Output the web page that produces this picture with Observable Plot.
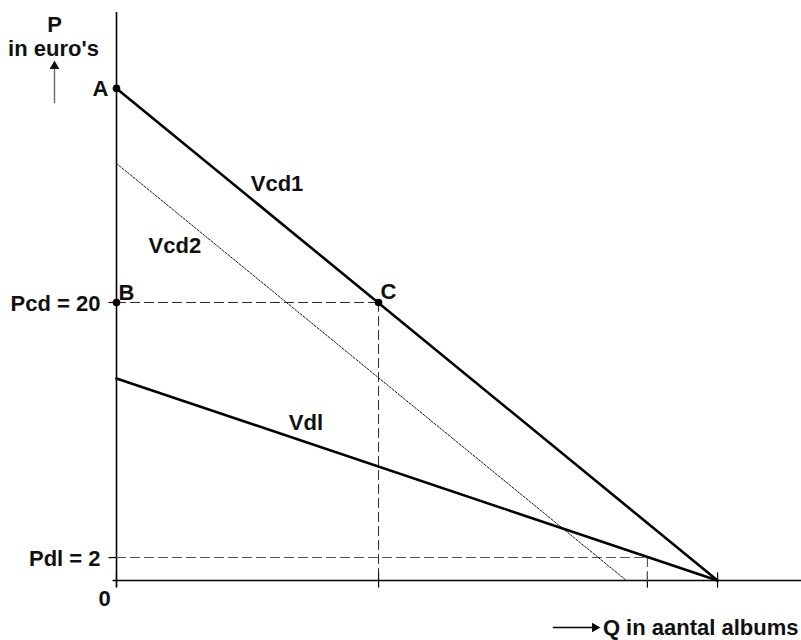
<!DOCTYPE html>
<html>
<head>
<meta charset="utf-8">
<script src="https://cdn.jsdelivr.net/npm/d3@7"></script>
<script src="https://cdn.jsdelivr.net/npm/@observablehq/plot@0.6"></script>
<style>
  html, body { margin: 0; padding: 0; background: #fff; }
  #chart svg { display: block; }
</style>
</head>
<body>
<div id="chart"></div>
<script>
// ---- Data ----
// Demand curves: intercepts on P (euro's) and Q (aantal albums) axes
const vcd1 = [{q: 0, p: 35.4}, {q: 60, p: 0}];     // Vcd1 (solid)
const vcd2 = [{q: 0, p: 30.0}, {q: 50.9, p: 0}];   // Vcd2 (dotted, shifted left)
const vdl  = [{q: 0, p: 14.53}, {q: 60, p: 0}];    // Vdl (solid)

// Marked points
const pointNames = ["A", "B", "C"];
const pointQ = [0, 0, 26.16];
const pointP = [35.4, 20, 20];

// Price levels
const pcd = 20;          // Pcd = 20
const pdl = 1.65;        // Pdl = 2 (position as drawn)
const qcd = 26.16;       // quantity at C
const qdl = 53.0;        // quantity where Vdl meets Pdl

// Tick values and labels
const xTicks = [0, 26.16, 53.0, 60];
const yTicks = [pdl, pcd];
const yTickLabels = ["Pdl = 2", "Pcd = 20"];

// Curve labels
const curveLabels = ["Vcd1", "Vcd2", "Vdl"];
const curveLabelQ = [13.4, 3.2, 17.2];
const curveLabelP = [28.5, 24.1, 11.3];

const points = pointNames.map((n, i) => ({name: n, q: pointQ[i], p: pointP[i]}));
const guidesCd = [
  [{q: 0, p: pcd}, {q: qcd, p: pcd}],
  [{q: qcd, p: pcd}, {q: qcd, p: 0}]
];
const guidesDl = [
  [{q: 0, p: pdl}, {q: qdl, p: pdl}],
  [{q: qdl, p: pdl}, {q: qdl, p: 0}]
];
const yTickData = yTicks.map((v, i) => ({p: v, label: yTickLabels[i]}));
const curveLabelData = curveLabels.map((t, i) => ({t, q: curveLabelQ[i], p: curveLabelP[i]}));

const FONT = "Liberation Sans, Arial, Helvetica, sans-serif";
const FS = 22;
const FW = "bold";

const XMAX = 68.38, YMAX = 40.86;

const txt = (data, opts) => Plot.text(data, {fontSize: FS, fontFamily: FONT, fontWeight: FW, fill: "#111", ...opts});

const chart = Plot.plot({
  width: 801,
  height: 640,
  marginLeft: 116,
  marginRight: 0,
  marginTop: 12,
  marginBottom: 60,
  x: {domain: [0, XMAX], axis: null},
  y: {domain: [0, YMAX], axis: null},
  marks: [
    // axes
    Plot.ruleX([0], {y1: -0.5, y2: YMAX, stroke: "black", strokeWidth: 1.6}),
    Plot.ruleY([0], {x1: -0.35, x2: XMAX, stroke: "black", strokeWidth: 1.6}),
    // x ticks
    Plot.ruleX(xTicks, {x: d => d, y1: -0.55, y2: 0.55, stroke: "black", strokeWidth: 1.2}),
    // y ticks
    Plot.ruleY(yTicks, {y: d => d, x1: -0.75, x2: 0.2, stroke: "black", strokeWidth: 1.2}),
    // dashed guides
    ...guidesCd.map(g => Plot.line(g, {x: "q", y: "p", stroke: "#222", strokeWidth: 1, strokeDasharray: "9,5"})),
    ...guidesDl.map(g => Plot.line(g, {x: "q", y: "p", stroke: "#555", strokeWidth: 1.1, strokeDasharray: "9,5"})),
    // demand curves
    Plot.line(vcd2, {x: "q", y: "p", stroke: "#111", strokeWidth: 1, strokeDasharray: "2,1.6"}),
    Plot.line(vcd1, {x: "q", y: "p", stroke: "black", strokeWidth: 2.6}),
    Plot.line(vdl, {x: "q", y: "p", stroke: "black", strokeWidth: 2.6}),
    // points
    Plot.dot(points, {x: "q", y: "p", r: 3.8, fill: "black", stroke: "none"}),
    // point labels
    txt(points.filter(d => d.name === "A"), {x: "q", y: "p", text: "name", dx: -8, dy: 1, textAnchor: "end"}),
    txt(points.filter(d => d.name === "B"), {x: "q", y: "p", text: "name", dx: 2, dy: -10, textAnchor: "start"}),
    txt(points.filter(d => d.name === "C"), {x: "q", y: "p", text: "name", dx: 2, dy: -11, textAnchor: "start"}),
    // curve labels
    txt(curveLabelData, {x: "q", y: "p", text: "t", textAnchor: "start"}),
    // y tick labels
    txt(yTickData, {x: 0, y: "p", text: "label", dx: -16, dy: 1, textAnchor: "end"}),
    // origin
    txt(["0"], {x: 0, y: 0, text: d => d, dx: -12, dy: 18, textAnchor: "middle"}),
    // P axis title with upward arrow
    txt(["P"], {x: 0, y: YMAX, text: d => d, dx: -62, dy: 12, textAnchor: "middle"}),
    txt(["in euro's"], {x: 0, y: YMAX, text: d => d, dx: -63, dy: 36, textAnchor: "middle"}),
    Plot.ruleX([-6.19], {x: d => d, y1: 34.3, y2: 36.9, stroke: "#666", strokeWidth: 1.4}),
    Plot.dot([0], {x: -6.19, y: 37.0, symbol: "triangle", r: 3.6, fill: "#111", stroke: "none"}),
    // Q axis title with right arrow
    txt(["Q in aantal albums"], {x: XMAX, y: 0, text: d => d, dx: -3, dy: 47, textAnchor: "end"}),
    Plot.ruleY([-3.38], {y: d => d, x1: 43.6, x2: 47.6, stroke: "black", strokeWidth: 1.3}),
    Plot.dot([0], {x: 47.75, y: -3.38, symbol: "triangle", rotate: 90, r: 3.6, fill: "black", stroke: "none"})
  ]
});

document.getElementById("chart").appendChild(chart);
</script>
</body>
</html>
